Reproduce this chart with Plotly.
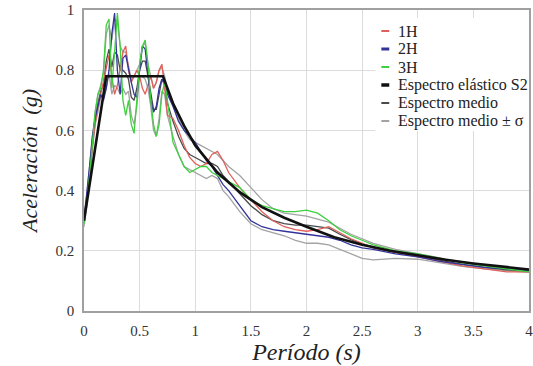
import plotly.graph_objects as go

# Period axis (s) shared by the record spectra
periodo = [0, 0.025, 0.05, 0.075, 0.1, 0.125, 0.15, 0.175, 0.2, 0.225, 0.25, 0.275,
           0.3, 0.325, 0.35, 0.375, 0.4, 0.425, 0.45, 0.475, 0.5, 0.525, 0.55, 0.575,
           0.6, 0.625, 0.65, 0.675, 0.7, 0.725, 0.75, 0.8, 0.85, 0.9, 0.95, 1.0,
           1.05, 1.1, 1.15, 1.2, 1.25, 1.3, 1.4, 1.5, 1.6, 1.7, 1.8, 1.9, 2.0,
           2.1, 2.2, 2.3, 2.4, 2.5, 2.6, 2.8, 3.0, 3.2, 3.4, 3.6, 3.8, 4.0]

sa_1h = [0.31, 0.37, 0.45, 0.55, 0.62, 0.68, 0.72, 0.76, 0.80, 0.85, 0.78, 0.72,
         0.75, 0.80, 0.86, 0.88, 0.80, 0.76, 0.78, 0.80, 0.78, 0.74, 0.72, 0.75,
         0.78, 0.74, 0.76, 0.80, 0.82, 0.74, 0.65, 0.64, 0.60, 0.55, 0.51, 0.49,
         0.48, 0.49, 0.52, 0.53, 0.50, 0.46, 0.41, 0.37, 0.33, 0.30, 0.28, 0.27, 0.265,
         0.27, 0.28, 0.26, 0.24, 0.225, 0.21, 0.195, 0.18, 0.165, 0.15, 0.14, 0.13, 0.13]

sa_2h = [0.30, 0.38, 0.48, 0.58, 0.64, 0.68, 0.72, 0.70, 0.74, 0.80, 0.92, 0.99,
         0.80, 0.72, 0.84, 0.85, 0.80, 0.76, 0.72, 0.71, 0.80, 0.88, 0.87, 0.78,
         0.70, 0.66, 0.68, 0.74, 0.77, 0.76, 0.72, 0.68, 0.63, 0.60, 0.58, 0.56,
         0.53, 0.50, 0.48, 0.45, 0.42, 0.40, 0.35, 0.30, 0.28, 0.27, 0.265, 0.26, 0.255,
         0.25, 0.245, 0.235, 0.22, 0.21, 0.205, 0.19, 0.18, 0.165, 0.155, 0.145, 0.14, 0.135]

sa_3h = [0.29, 0.36, 0.45, 0.55, 0.66, 0.72, 0.74, 0.80, 0.95, 0.97, 0.74, 0.86,
         0.99, 0.88, 0.70, 0.65, 0.70, 0.62, 0.59, 0.70, 0.82, 0.88, 0.90, 0.82,
         0.70, 0.62, 0.58, 0.62, 0.72, 0.76, 0.70, 0.56, 0.52, 0.48, 0.46, 0.47,
         0.48, 0.48, 0.46, 0.45, 0.44, 0.43, 0.41, 0.37, 0.35, 0.34, 0.33, 0.33, 0.335,
         0.325, 0.30, 0.27, 0.25, 0.235, 0.22, 0.20, 0.19, 0.175, 0.16, 0.15, 0.14, 0.13]

sa_medio = [0.30, 0.37, 0.46, 0.56, 0.64, 0.69, 0.73, 0.75, 0.83, 0.87, 0.81, 0.86,
            0.85, 0.80, 0.80, 0.79, 0.77, 0.71, 0.70, 0.74, 0.80, 0.83, 0.83, 0.78,
            0.73, 0.67, 0.67, 0.72, 0.77, 0.75, 0.69, 0.63, 0.58, 0.54, 0.52, 0.51,
            0.50, 0.49, 0.49, 0.48, 0.45, 0.43, 0.39, 0.35, 0.32, 0.30, 0.29, 0.285, 0.285,
            0.28, 0.275, 0.255, 0.237, 0.223, 0.212, 0.195, 0.183, 0.168, 0.155, 0.145, 0.137, 0.132]

sa_medio_mas = [0.32, 0.39, 0.48, 0.58, 0.66, 0.72, 0.75, 0.79, 0.92, 0.95, 0.90, 0.97,
                0.96, 0.88, 0.86, 0.86, 0.81, 0.77, 0.78, 0.80, 0.82, 0.88, 0.89, 0.82,
                0.78, 0.74, 0.76, 0.80, 0.81, 0.78, 0.73, 0.68, 0.64, 0.60, 0.57, 0.56,
                0.55, 0.54, 0.53, 0.52, 0.50, 0.48, 0.45, 0.41, 0.37, 0.34, 0.325, 0.32, 0.315,
                0.305, 0.295, 0.275, 0.255, 0.24, 0.225, 0.205, 0.19, 0.175, 0.162, 0.15, 0.142, 0.136]

sa_medio_menos = [0.28, 0.35, 0.44, 0.54, 0.62, 0.66, 0.71, 0.71, 0.74, 0.79, 0.72, 0.75,
                  0.74, 0.72, 0.74, 0.72, 0.73, 0.65, 0.62, 0.68, 0.78, 0.78, 0.77, 0.74,
                  0.68, 0.60, 0.58, 0.64, 0.73, 0.72, 0.65, 0.58, 0.52, 0.48, 0.47, 0.46,
                  0.45, 0.44, 0.45, 0.44, 0.40, 0.38, 0.33, 0.29, 0.27, 0.26, 0.25, 0.235, 0.225,
                  0.225, 0.22, 0.205, 0.19, 0.175, 0.17, 0.175, 0.172, 0.16, 0.148, 0.14, 0.133, 0.128]

# Elastic design spectrum S2
periodo_s2 = [0, 0.2, 0.71, 0.8, 0.9, 1.0, 1.2, 1.4, 1.6, 1.8, 2.0, 2.25, 2.5,
              2.75, 3.0, 3.25, 3.5, 3.75, 4.0]
sa_s2 = [0.30, 0.78, 0.78, 0.69, 0.615, 0.55, 0.46, 0.395, 0.345, 0.31, 0.28, 0.245,
         0.22, 0.20, 0.185, 0.17, 0.158, 0.148, 0.138]

x_ticks = [0, 0.5, 1, 1.5, 2, 2.5, 3, 3.5, 4]
x_tick_text = ["0", "0.5", "1", "1.5", "2", "2.5", "3", "3.5", "4"]
y_ticks = [0, 0.2, 0.4, 0.6, 0.8, 1]
y_tick_text = ["0", "0.2", "0.4", "0.6", "0.8", "1"]

legend_names = ["1H", "2H", "3H", "Espectro elástico S2", "Espectro medio",
                "Espectro medio ± σ"]

SERIF = "Liberation Serif"
C_1H, C_2H, C_3H = "#e0605a", "#33339a", "#3fd03f"
C_S2, C_MEDIO, C_SIGMA = "#111111", "#4a4a4a", "#a3a3a3"

fig = go.Figure()

# mean ± sigma envelope, mean, records, then the design spectrum on top
fig.add_trace(go.Scatter(x=periodo, y=sa_medio_mas, mode="lines",
                         line=dict(color=C_SIGMA, width=1.3), name=legend_names[5]))
fig.add_trace(go.Scatter(x=periodo, y=sa_medio_menos, mode="lines",
                         line=dict(color=C_SIGMA, width=1.3), name=legend_names[5]))
fig.add_trace(go.Scatter(x=periodo, y=sa_medio, mode="lines",
                         line=dict(color=C_MEDIO, width=1.3), name=legend_names[4]))
fig.add_trace(go.Scatter(x=periodo, y=sa_1h, mode="lines",
                         line=dict(color=C_1H, width=1.3), name=legend_names[0]))
fig.add_trace(go.Scatter(x=periodo, y=sa_2h, mode="lines",
                         line=dict(color=C_2H, width=1.3), name=legend_names[1]))
fig.add_trace(go.Scatter(x=periodo, y=sa_3h, mode="lines",
                         line=dict(color=C_3H, width=1.3), name=legend_names[2]))
fig.add_trace(go.Scatter(x=periodo_s2, y=sa_s2, mode="lines",
                         line=dict(color=C_S2, width=2.6), name=legend_names[3]))

# Compact key: white box with short dashes and serif labels
W, H = 533, 366
ML, MR, MT, MB = 84, 0, 10, 55
plot_w, plot_h = W - ML - MR, H - MT - MB


def px_x(px):
    return (px - ML) / plot_w


def px_y(py):
    return 1 - (py - MT) / plot_h


key_colors = [C_1H, C_2H, C_3H, C_S2, C_MEDIO, C_SIGMA]
key_widths = [2, 3, 2, 3.5, 2, 2]
fig.add_shape(type="rect", xref="paper", yref="paper",
              x0=px_x(378), x1=1, y0=px_y(131), y1=px_y(18),
              fillcolor="white", line_width=0, layer="above")
for i, (name, col, lw) in enumerate(zip(legend_names, key_colors, key_widths)):
    row_y = px_y(31 + 18 * i)
    fig.add_shape(type="line", xref="paper", yref="paper",
                  x0=px_x(384), x1=px_x(392), y0=row_y, y1=row_y,
                  line=dict(color=col, width=lw), layer="above")
    fig.add_annotation(xref="paper", yref="paper", x=px_x(399), y=row_y,
                       xanchor="left", yanchor="middle", showarrow=False,
                       text=name, font=dict(family=SERIF, size=16, color="#222222"))

axis_common = dict(
    showgrid=True, gridcolor="#dcdcdc", gridwidth=1,
    showline=True, linecolor="#a0a0a0", linewidth=1.5, mirror=True,
    zeroline=False, ticks="",
    tickfont=dict(family=SERIF, size=15, color="#333333"),
)

fig.update_layout(
    width=W, height=H,
    margin=dict(l=ML, r=MR, t=MT, b=MB),
    paper_bgcolor="white", plot_bgcolor="white",
    font=dict(family=SERIF, color="#222222"),
    showlegend=False,
    xaxis=dict(range=[0, 4], tickvals=x_ticks, ticktext=x_tick_text,
               ticklabeloverflow="allow", ticklabelstandoff=5,
               title=dict(text="Período (s)", standoff=4,
                          font=dict(family=SERIF, size=24, style="italic", color="#222222")),
               **axis_common),
    yaxis=dict(range=[0, 1], tickvals=y_ticks, ticktext=y_tick_text,
               ticklabelstandoff=5,
               title=dict(text="Aceleración  (g)", standoff=12,
                          font=dict(family=SERIF, size=22, style="italic", color="#222222")),
               **axis_common),
)

fig.write_html("out.html")
